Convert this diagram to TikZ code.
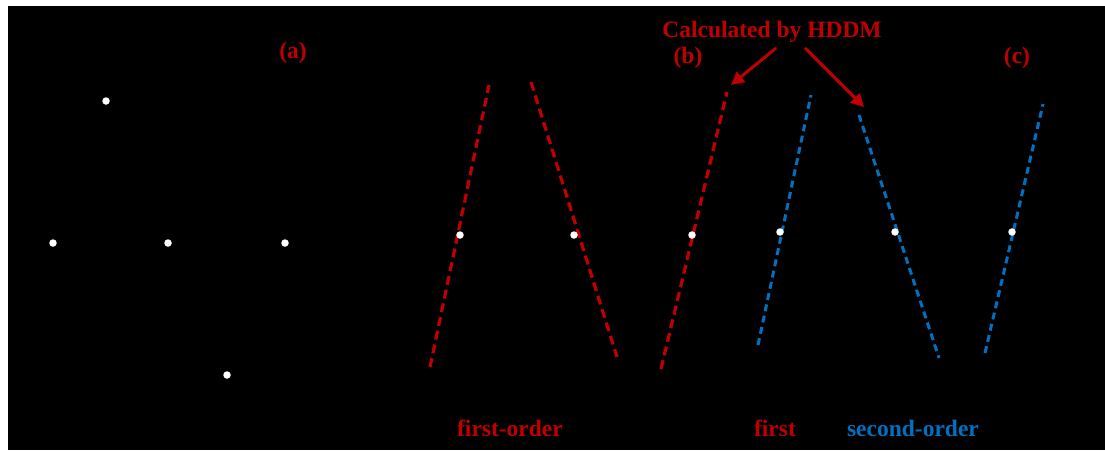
\documentclass[tikz,border=0pt]{standalone}
\usepackage{fontspec}
\setmainfont{Liberation Serif}
\usetikzlibrary{arrows.meta}
\definecolor{hred}{HTML}{C00000}
\definecolor{hblue}{HTML}{0070C0}
\begin{document}
\begin{tikzpicture}[x=1pt,y=-1pt,
 dot/.style={circle,fill=white,inner sep=0pt,minimum size=7.5pt},
 lbl/.style={font=\fontsize{23.5}{28}\selectfont\bfseries,inner sep=0pt},
 rdash/.style={draw=hred,line width=3.2pt,dash pattern=on 9pt off 5pt},
 bdash/.style={draw=hblue,line width=3pt,dash pattern=on 7pt off 4.5pt},
 callout/.style={draw=hred,line width=3pt,-{Triangle[length=13pt,width=13pt]}}]
\useasboundingbox (0,0) rectangle (1105,450);
\fill[white] (0,0) rectangle (1105,450);
\fill[black] (8,6) rectangle (1105,450);

% panel (a)
\node[lbl,text=hred] (la) at (293,53) {(a)};
\node[dot] (p1) at (106,101) {};
\node[dot] (p2) at (53,243) {};
\node[dot] (p3) at (168,243) {};
\node[dot] (p4) at (285,243) {};
\node[dot] (p5) at (227,375) {};

% panel (b)
\coordinate (b1s) at (430,367); \coordinate (b1e) at (489,85);
\coordinate (b2s) at (531,82);  \coordinate (b2e) at (617,357);
\coordinate (b3s) at (661,369); \coordinate (b3e) at (727,92);
\draw[rdash] (b1s) -- (b1e);
\draw[rdash] (b2s) -- (b2e);
\draw[rdash] (b3s) -- (b3e);
\node[dot] (q1) at (460,235) {};
\node[dot] (q2) at (574,235) {};
\node[dot] (q3) at (692,235) {};
\node[lbl,text=hred] (lb) at (688,58) {(b)};
\node[lbl,text=hred] (fo) at (510,428) {first-order};

% panel (c)
\coordinate (c1s) at (758,345); \coordinate (c1e) at (811,95);
\coordinate (c2s) at (859,115); \coordinate (c2e) at (939,358);
\coordinate (c3s) at (985,353); \coordinate (c3e) at (1043,104);
\draw[bdash] (c1s) -- (c1e);
\draw[bdash] (c2s) -- (c2e);
\draw[bdash] (c3s) -- (c3e);
\node[dot] (r1) at (780,232) {};
\node[dot] (r2) at (895,232) {};
\node[dot] (r3) at (1012,232) {};
\node[lbl,text=hred] (lc) at (1017,58) {(c)};
\node[lbl,text=hred] (fi) at (775,428) {first};
\node[lbl,text=hblue] (so) at (913,428) {second-order};

% callout
\node[lbl,text=hred] (calc) at (772,32) {Calculated by HDDM};
\coordinate (a1s) at (776,48); \coordinate (a1e) at (731,85);
\coordinate (a2s) at (805,48); \coordinate (a2e) at (864,107);
\draw[callout] (a1s) -- (a1e);
\draw[callout] (a2s) -- (a2e);
\end{tikzpicture}
\end{document}
